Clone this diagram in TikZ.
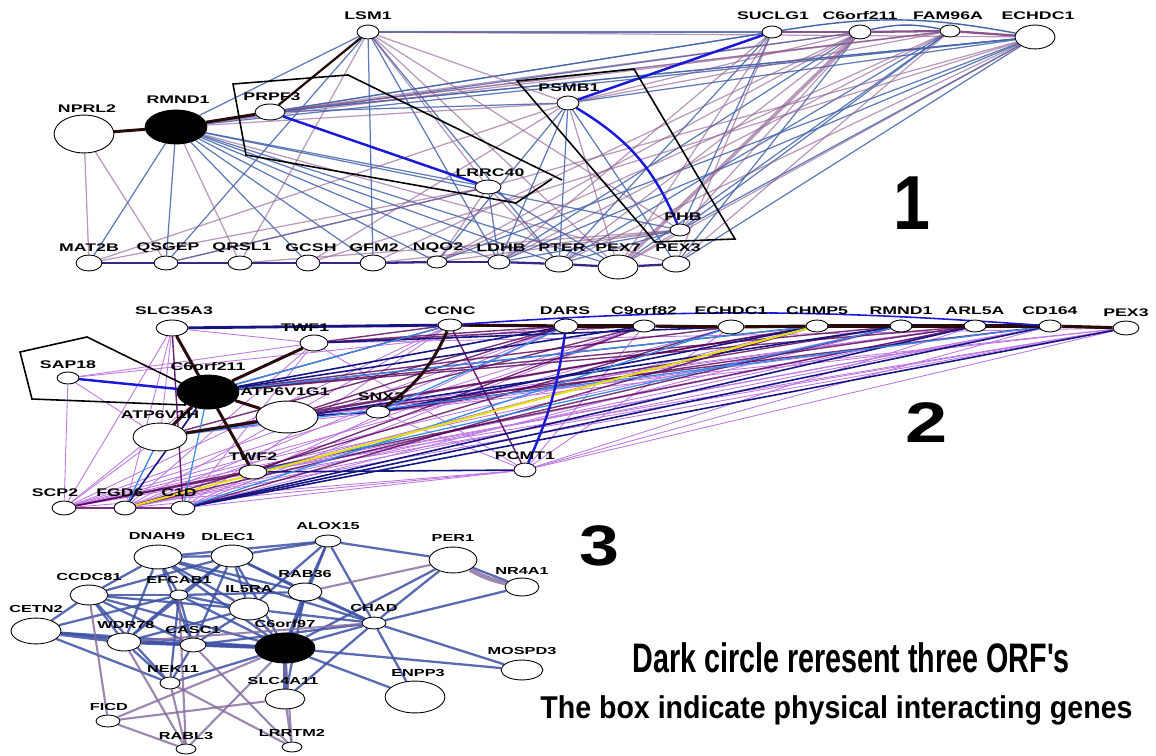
\documentclass[tikz,border=0pt]{standalone}
\usepackage{fontspec}
\setmainfont{Liberation Sans}
\usetikzlibrary{shapes.geometric,backgrounds}

\definecolor{steel}{RGB}{66,98,170}
\definecolor{mauve}{RGB}{135,85,140}
\definecolor{royal}{RGB}{25,25,215}
\definecolor{darkrim}{RGB}{40,12,12}
\definecolor{lilac}{RGB}{190,120,225}
\definecolor{plum}{RGB}{85,0,85}
\definecolor{navytwo}{RGB}{20,20,130}
\definecolor{sky}{RGB}{50,140,230}
\definecolor{lemon}{RGB}{230,225,0}
\definecolor{netblue}{RGB}{60,80,165}
\definecolor{netgrey}{RGB}{130,105,155}

\newcommand{\gname}[1]{\scalebox{1.6}[1]{#1}}

\tikzset{
  gene/.style={ellipse,draw=black,line width=0.5pt,fill=white,inner sep=0pt},
  orf/.style={gene,fill=black},
  sz/.style 2 args={minimum width=#1*1.134pt,minimum height=#2*1.134pt},
  lab/.style={inner sep=0pt,font=\fontsize{6.3}{7}\selectfont\bfseries},
  labs/.style={inner sep=0pt,font=\fontsize{5.8}{7}\selectfont\bfseries},
  eblue/.style={steel,line width=0.7pt,draw opacity=0.85},
  epurp/.style={mauve,line width=0.7pt,draw opacity=0.6},
  ehard/.style={royal,line width=1.4pt},
  edark/.style={darkrim,line width=1.7pt},
  chain/.style={navytwo!70!mauve,line width=1.3pt},
  elil/.style={lilac,line width=0.5pt},
  eplum/.style={plum,line width=0.8pt,draw opacity=0.8},
  enavy/.style={navytwo,line width=0.9pt},
  esky/.style={sky,line width=0.7pt},
  nb/.style={netblue,line width=1.3pt,draw opacity=0.85},
  ng/.style={netgrey,line width=1.2pt,draw opacity=0.8},
  phys/.style={black,line width=0.9pt}
}

\begin{document}
\begin{tikzpicture}[x=0.02cm,y=-0.02cm]
\useasboundingbox (0,0) rectangle (1156,756);

% network 1
\node[gene,sz={11}{7}] (lsm1) at (368,32) {};
\node[gene,sz={30}{19}] (nprl2) at (84,134) {};
\node[orf,sz={31}{17}] (rmnd1) at (176,127) {};
\node[gene,sz={15}{8}] (prpf3) at (270,112) {};
\node[gene,sz={13}{7}] (lrrc40) at (488,187) {};
\node[gene,sz={11}{7}] (psmb1) at (568,103) {};
\node[gene,sz={10}{6}] (suclg1) at (772,32) {};
\node[gene,sz={11}{7}] (c6orf) at (860,32) {};
\node[gene,sz={10}{6}] (fam96a) at (950,31) {};
\node[gene,sz={20}{12}] (echdc1) at (1035,37) {};
\node[gene,sz={10}{6}] (phb) at (680,230) {};
\node[gene,sz={13}{8}] (mat2b) at (89,263) {};
\node[gene,sz={12}{7}] (qsgep) at (166,263) {};
\node[gene,sz={12}{7}] (qrsl1) at (240,263) {};
\node[gene,sz={12}{8}] (gcsh) at (308,263) {};
\node[gene,sz={13}{8}] (gfm2) at (373,263) {};
\node[gene,sz={10}{6}] (nqo2) at (437,262) {};
\node[gene,sz={11}{7}] (ldhb) at (499,262) {};
\node[gene,sz={14}{8}] (pter) at (559,264) {};
\node[gene,sz={20}{12}] (pex7) at (618,267) {};
\node[gene,sz={14}{8}] (pex3) at (676,264) {};

\node[lab] (l-lsm1) at (368,16) {\gname{LSM1}};
\node[lab] (l-nprl2) at (87,109) {\gname{NPRL2}};
\node[lab] (l-rmnd1) at (178,100) {\gname{RMND1}};
\node[lab] (l-prpf3) at (272,97) {\gname{PRPF3}};
\node[lab] (l-lrrc40) at (490,173) {\gname{LRRC40}};
\node[lab] (l-psmb1) at (569,88) {\gname{PSMB1}};
\node[lab] (l-suclg1) at (773,16) {\gname{SUCLG1}};
\node[lab] (l-c6orf) at (860,16) {\gname{C6orf211}};
\node[lab] (l-fam96a) at (948,16) {\gname{FAM96A}};
\node[lab] (l-echdc1) at (1038,16) {\gname{ECHDC1}};
\node[lab] (l-phb) at (683,217) {\gname{PHB}};
\node[lab] (l-mat2b) at (89,248) {\gname{MAT2B}};
\node[lab] (l-qsgep) at (168,248) {\gname{QSGEP}};
\node[lab] (l-qrsl1) at (242,248) {\gname{QRSL1}};
\node[lab] (l-gcsh) at (311,248) {\gname{GCSH}};
\node[lab] (l-gfm2) at (374,248) {\gname{GFM2}};
\node[lab] (l-nqo2) at (438,248) {\gname{NQO2}};
\node[lab] (l-ldhb) at (501,248) {\gname{LDHB}};
\node[lab] (l-pter) at (562,248) {\gname{PTER}};
\node[lab] (l-pex7) at (618,248) {\gname{PEX7}};
\node[lab] (l-pex3) at (678,248) {\gname{PEX3}};

% network 2
\node[gene,sz={16}{8}] (slc35a3) at (172,328) {};
\node[gene,sz={14}{8}] (twf1) at (314,343) {};
\node[gene,sz={12}{6}] (ccnc) at (450,325) {};
\node[gene,sz={12}{7}] (dars) at (566,326) {};
\node[gene,sz={11}{6}] (c9orf82) at (644,326) {};
\node[gene,sz={13}{7}] (echdc1b) at (731,327) {};
\node[gene,sz={11}{6}] (chmp5) at (817,326) {};
\node[gene,sz={11}{6}] (rmnd1b) at (901,326) {};
\node[gene,sz={11}{6}] (arl5a) at (975,326) {};
\node[gene,sz={11}{6}] (cd164) at (1050,326) {};
\node[gene,sz={13}{7}] (pex3b) at (1126,328) {};
\node[gene,sz={11}{6}] (sap18) at (68,378) {};
\node[gene,sz={31}{16}] (atpg1) at (287,417) {};
\node[gene,sz={12}{6}] (snx3) at (378,412) {};
\node[gene,sz={27}{14}] (atph) at (160,437) {};
\node[gene,sz={14}{7}] (twf2) at (253,472) {};
\node[gene,sz={11}{7}] (pcmt1) at (525,470) {};
\node[gene,sz={12}{7}] (scp2) at (64,508) {};
\node[gene,sz={11}{7}] (fgd6) at (125,508) {};
\node[gene,sz={12}{7}] (c1d) at (183,508) {};
\draw[phys] (20,352) -- (87,337) -- (185,385) -- (185,405) -- (32,399) -- cycle;
\node[orf,sz={31}{17}] (c6orfb) at (208,392) {};

\node[lab] (l-slc35a3) at (174,311) {\gname{SLC35A3}};
\node[lab] (l-twf1) at (305,328) {\gname{TWF1}};
\node[lab] (l-ccnc) at (450,311) {\gname{CCNC}};
\node[lab] (l-dars) at (565,311) {\gname{DARS}};
\node[lab] (l-c9orf82) at (644,311) {\gname{C9orf82}};
\node[lab] (l-echdc1b) at (731,311) {\gname{ECHDC1}};
\node[lab] (l-chmp5) at (817,311) {\gname{CHMP5}};
\node[lab] (l-rmnd1b) at (901,311) {\gname{RMND1}};
\node[lab] (l-arl5a) at (975,311) {\gname{ARL5A}};
\node[lab] (l-cd164) at (1050,311) {\gname{CD164}};
\node[lab] (l-pex3b) at (1126,313) {\gname{PEX3}};
\node[lab] (l-sap18) at (68,365) {\gname{SAP18}};
\node[lab] (l-c6orfb) at (208,367) {\gname{C6orf211}};
\node[lab] (l-atpg1) at (285,392) {\gname{ATP6V1G1}};
\node[lab] (l-snx3) at (381,397) {\gname{SNX3}};
\node[lab] (l-atph) at (160,415) {\gname{ATP6V1H}};
\node[lab] (l-twf2) at (253,457) {\gname{TWF2}};
\node[lab] (l-pcmt1) at (525,456) {\gname{PCMT1}};
\node[lab] (l-scp2) at (55,493) {\gname{SCP2}};
\node[lab] (l-fgd6) at (120,493) {\gname{FGD6}};
\node[lab] (l-c1d) at (179,493) {\gname{C1D}};

% network 3
\node[gene,sz={24}{12}] (dnah9) at (158,557) {};
\node[gene,sz={21}{11}] (dlec1) at (232,556) {};
\node[gene,sz={13}{6}] (alox15) at (328,541) {};
\node[gene,sz={24}{13}] (per1) at (453,560) {};
\node[gene,sz={17}{9}] (nr4a1) at (522,587) {};
\node[gene,sz={19}{10}] (ccdc81) at (89,595) {};
\node[gene,sz={9}{5}] (efcab1) at (179,595) {};
\node[gene,sz={17}{9}] (rab36) at (305,592) {};
\node[gene,sz={20}{11}] (il5ra) at (249,609) {};
\node[gene,sz={25}{13}] (cetn2) at (36,631) {};
\node[gene,sz={12}{6}] (chad) at (374,623) {};
\node[gene,sz={17}{9}] (wdr78) at (124,642) {};
\node[gene,sz={13}{7}] (casc1) at (193,645) {};
\node[orf,sz={30}{15}] (c6orf97) at (285,648) {};
\node[gene,sz={21}{10}] (mospd3) at (522,670) {};
\node[gene,sz={10}{6}] (nek11) at (170,683) {};
\node[gene,sz={20}{10}] (slc4a11) at (285,699) {};
\node[gene,sz={30}{16}] (enpp3) at (415,697) {};
\node[gene,sz={12}{6}] (ficd) at (108,721) {};
\node[gene,sz={10}{5}] (rabl3) at (186,749) {};
\node[gene,sz={10}{5}] (lrrtm2) at (292,747) {};

\node[labs] (l-dnah9) at (157,536) {\gname{DNAH9}};
\node[labs] (l-dlec1) at (228,537) {\gname{DLEC1}};
\node[labs] (l-alox15) at (328,526) {\gname{ALOX15}};
\node[labs] (l-per1) at (453,538) {\gname{PER1}};
\node[labs] (l-nr4a1) at (522,571) {\gname{NR4A1}};
\node[labs] (l-ccdc81) at (89,577) {\gname{CCDC81}};
\node[labs] (l-efcab1) at (179,580) {\gname{EFCAB1}};
\node[labs] (l-rab36) at (305,574) {\gname{RAB36}};
\node[labs] (l-il5ra) at (249,589) {\gname{IL5RA}};
\node[labs] (l-cetn2) at (36,609) {\gname{CETN2}};
\node[labs] (l-chad) at (374,608) {\gname{CHAD}};
\node[labs] (l-wdr78) at (126,625) {\gname{WDR78}};
\node[labs] (l-casc1) at (193,630) {\gname{CASC1}};
\node[labs] (l-c6orf97) at (285,624) {\gname{C6orf97}};
\node[labs] (l-mospd3) at (522,651) {\gname{MOSPD3}};
\node[labs] (l-nek11) at (173,669) {\gname{NEK11}};
\node[labs] (l-slc4a11) at (283,681) {\gname{SLC4A11}};
\node[labs] (l-enpp3) at (418,673) {\gname{ENPP3}};
\node[labs] (l-ficd) at (109,707) {\gname{FICD}};
\node[labs] (l-rabl3) at (186,736) {\gname{RABL3}};
\node[labs] (l-lrrtm2) at (292,733) {\gname{LRRTM2}};

% boxes of network 1
\draw[phys] (552,179) -- (516,203) -- (246,155) -- (233,84) -- (348,75) -- (562,180);
\draw[phys] (655,242) -- (517,81) -- (634,69) -- (735,239) -- cycle;

% numbers and notes
\node[inner sep=0pt,anchor=base west] (num1) at (893,230) {\resizebox{21pt}{30pt}{\bfseries 1}};
\node[inner sep=0pt,anchor=base west] (num2) at (905,443) {\resizebox{24pt}{22.7pt}{\bfseries 2}};
\node[inner sep=0pt,anchor=base west] (num3) at (579,565) {\resizebox{22.7pt}{22.7pt}{\bfseries 3}};
\node[inner sep=0pt,anchor=base west] (note1) at (632,672) {\resizebox{249pt}{17pt}{\bfseries Dark circle reresent three ORF\textquotesingle s}};
\node[inner sep=0pt,anchor=base west] (note2) at (540,718) {\resizebox{337pt}{13pt}{\bfseries The box indicate physical interacting genes}};

\begin{pgfonlayer}{background}
% network 1 edges
\foreach \a/\b in {lsm1/suclg1,lsm1/rmnd1,lsm1/qsgep,lsm1/gfm2,lsm1/pter,lsm1/ldhb,rmnd1/mat2b,rmnd1/qsgep,rmnd1/gcsh,rmnd1/gfm2,rmnd1/nqo2,rmnd1/ldhb,rmnd1/pter,rmnd1/pex7,rmnd1/phb,rmnd1/lrrc40,rmnd1/suclg1,rmnd1/c6orf,rmnd1/echdc1,prpf3/suclg1,prpf3/echdc1,qsgep/lrrc40,echdc1/psmb1,echdc1/phb,echdc1/pex3,echdc1/ldhb,echdc1/prpf3,echdc1/nqo2,fam96a/pex7,fam96a/pter,fam96a/phb,c6orf/pex3,c6orf/ldhb,suclg1/pter,suclg1/phb,psmb1/nqo2,psmb1/pter,psmb1/pex3,phb/ldhb,phb/pter,lrrc40/pex7,lrrc40/ldhb,prpf3/psmb1,psmb1/ldhb}
  \draw[eblue] (\a) -- (\b);
\foreach \a/\b in {nprl2/qsgep,nprl2/mat2b,rmnd1/qrsl1,rmnd1/pex3,rmnd1/fam96a,rmnd1/psmb1,lsm1/psmb1,lsm1/phb,lsm1/lrrc40,lsm1/pex7,lsm1/echdc1,prpf3/c6orf,prpf3/fam96a,mat2b/lrrc40,mat2b/psmb1,echdc1/pex7,echdc1/pter,echdc1/lrrc40,echdc1/gcsh,fam96a/psmb1,fam96a/pex3,fam96a/ldhb,fam96a/prpf3,fam96a/nqo2,c6orf/psmb1,c6orf/phb,c6orf/pter,c6orf/nqo2,c6orf/gfm2,suclg1/pex3,suclg1/pex7,suclg1/ldhb,psmb1/pex7,psmb1/gcsh,phb/pex7,phb/nqo2,phb/qrsl1,phb/gfm2,lrrc40/nqo2,lrrc40/pter,lrrc40/qsgep,qrsl1/lsm1}
  \draw[epurp] (\a) -- (\b);
\draw[mauve,line width=2pt,draw opacity=0.6] (c6orf) -- (pex7);
\foreach \a/\b in {mat2b/qsgep,qsgep/qrsl1,qrsl1/gcsh,gcsh/gfm2,gfm2/nqo2,nqo2/ldhb,ldhb/pter,pter/pex7,pex7/pex3}
  \draw[chain] (\a) -- (\b);
\foreach \a/\b in {suclg1/c6orf,c6orf/fam96a,fam96a/echdc1}
  \draw[mauve,line width=1.3pt] (\a) -- (\b);
\draw[steel,line width=0.8pt] (c6orf) to[bend left=12] (fam96a);
\draw[steel,line width=0.8pt] (suclg1) to[bend left=10] (echdc1);
\draw[edark] (nprl2) -- (rmnd1);
\draw[edark] (rmnd1) -- (prpf3);
\draw[edark,line width=1.3pt] (lsm1) -- (prpf3);
\draw[ehard] (prpf3) -- (lrrc40);
\draw[ehard] (psmb1) -- (suclg1);
\draw[ehard] (psmb1) to[bend left=18] (phb);

% network 2 edges
\foreach \a/\b in {scp2/sap18,scp2/slc35a3,scp2/c6orfb,scp2/atph,scp2/c9orf82,scp2/echdc1b,scp2/cd164,scp2/pex3b,scp2/ccnc,scp2/pcmt1,scp2/rmnd1b,scp2/chmp5,scp2/dars,fgd6/slc35a3,fgd6/atph,fgd6/ccnc,fgd6/dars,fgd6/c9orf82,fgd6/cd164,fgd6/pex3b,fgd6/arl5a,fgd6/pcmt1,fgd6/twf1,c1d/slc35a3,c1d/dars,c1d/c9orf82,c1d/rmnd1b,c1d/pcmt1,c1d/ccnc,c1d/twf1,sap18/twf1,sap18/atph,sap18/dars,slc35a3/atph,slc35a3/twf1,slc35a3/dars,atpg1/pex3b,twf2/pex3b,twf2/cd164,twf2/arl5a,twf2/chmp5,atph/pex3b,atph/arl5a,snx3/pcmt1,twf1/pcmt1,ccnc/pcmt1,echdc1b/pcmt1,c9orf82/pcmt1,snx3/cd164,twf1/pex3b,atpg1/arl5a,pcmt1/pex3b,pcmt1/cd164,pcmt1/arl5a}
  \draw[elil] (\a) -- (\b);
\foreach \a/\b in {c6orfb/ccnc,c6orfb/echdc1b,c6orfb/chmp5,c6orfb/rmnd1b,c6orfb/arl5a,atpg1/dars,atpg1/c9orf82,atpg1/chmp5,atpg1/cd164,twf1/dars,twf1/c9orf82,twf1/ccnc,atph/dars,atph/chmp5,scp2/twf2,scp2/arl5a,fgd6/echdc1b,fgd6/rmnd1b,c1d/chmp5,snx3/rmnd1b,snx3/arl5a,pcmt1/ccnc,atph/c6orfb,scp2/c1d,slc35a3/c1d,twf2/c9orf82}
  \draw[eplum] (\a) -- (\b);
\foreach \a/\b in {twf2/pcmt1,c1d/arl5a,c1d/cd164,c1d/pex3b,atph/rmnd1b,atpg1/snx3,c6orfb/dars,twf1/echdc1b,c6orfb/c9orf82,snx3/chmp5,fgd6/c6orfb}
  \draw[enavy] (\a) -- (\b);
\foreach \a/\b in {c6orfb/ccnc,c6orfb/chmp5,c1d/echdc1b,atph/cd164,twf2/rmnd1b,dars/snx3,c1d/c6orfb,fgd6/atph}
  \draw[esky] (\a) -- (\b);
\draw[lemon,line width=1.1pt] (fgd6) -- (chmp5);
\draw[navytwo,line width=1.6pt] (slc35a3) -- (ccnc);
\foreach \a/\b in {ccnc/dars,dars/c9orf82,c9orf82/echdc1b,echdc1b/chmp5,chmp5/rmnd1b,rmnd1b/arl5a,arl5a/cd164,cd164/pex3b}
  \draw[darkrim,line width=1.8pt] (\a) -- (\b);
\draw[royal,line width=0.9pt] (ccnc) to[bend left=4] (cd164);
\foreach \a/\b in {c6orfb/slc35a3,c6orfb/twf1,c6orfb/atpg1,c6orfb/atph,c6orfb/twf2,atph/atpg1}
  \draw[edark] (\a) -- (\b);
\draw[edark] (ccnc) to[bend left=15] (snx3);
\draw[ehard] (sap18) -- (c6orfb);
\draw[ehard] (dars) to[bend left=8] (pcmt1);

% network 3 edges
\foreach \a/\b in {dnah9/dlec1,dnah9/ccdc81,dnah9/efcab1,dnah9/il5ra,dnah9/casc1,dnah9/wdr78,dnah9/c6orf97,dnah9/alox15,dnah9/rab36,dnah9/chad,dlec1/alox15,dlec1/ccdc81,dlec1/efcab1,dlec1/il5ra,dlec1/c6orf97,dlec1/casc1,dlec1/wdr78,dlec1/chad,dlec1/rab36,alox15/per1,alox15/rab36,alox15/il5ra,alox15/c6orf97,alox15/chad,per1/chad,per1/nr4a1,per1/c6orf97,nr4a1/chad,ccdc81/cetn2,ccdc81/efcab1,ccdc81/il5ra,ccdc81/c6orf97,ccdc81/wdr78,ccdc81/casc1,ccdc81/nek11,cetn2/casc1,cetn2/c6orf97,cetn2/efcab1,cetn2/nek11,efcab1/il5ra,efcab1/c6orf97,efcab1/casc1,efcab1/nek11,efcab1/rab36,efcab1/wdr78,rab36/chad,rab36/slc4a11,il5ra/c6orf97,il5ra/chad,il5ra/casc1,il5ra/wdr78,chad/c6orf97,chad/enpp3,chad/mospd3,chad/slc4a11,chad/casc1,wdr78/casc1,wdr78/nek11,casc1/c6orf97,casc1/nek11,c6orf97/mospd3,c6orf97/nek11,c6orf97/enpp3}
  \draw[nb] (\a) -- (\b);
\foreach \a/\b in {cetn2/wdr78,wdr78/c6orf97,rab36/c6orf97,c6orf97/slc4a11}
  \draw[nb,line width=2.2pt] (\a) -- (\b);
\foreach \a/\b in {per1/rab36,c6orf97/lrrtm2,c6orf97/ficd,c6orf97/rabl3,ficd/slc4a11,ficd/rabl3,ficd/ccdc81,nek11/rabl3,nek11/lrrtm2,slc4a11/lrrtm2,wdr78/rabl3,efcab1/rabl3,casc1/lrrtm2,wdr78/chad}
  \draw[ng] (\a) -- (\b);
\draw[ng,line width=2.6pt] (per1) to[bend right=8] (nr4a1);
\end{pgfonlayer}
\end{tikzpicture}
\end{document}
